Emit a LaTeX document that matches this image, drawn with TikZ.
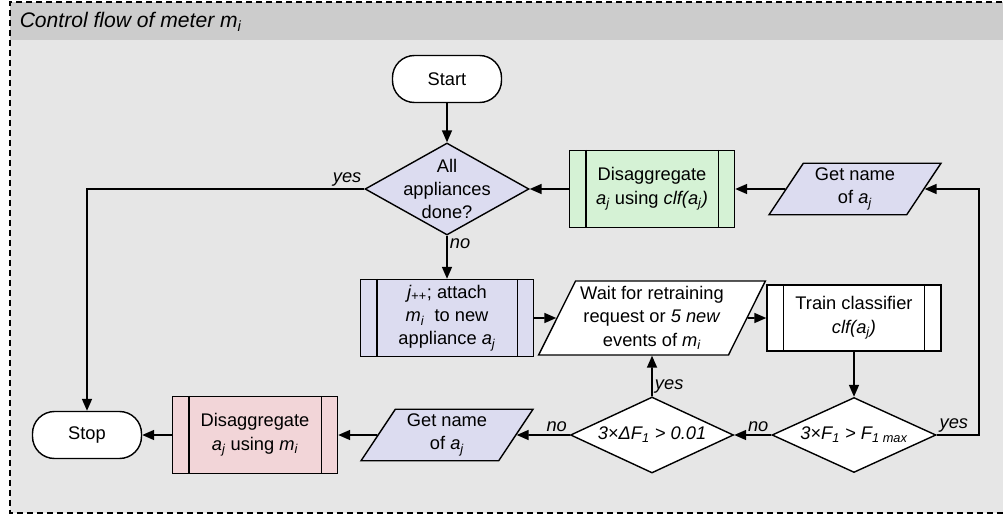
\documentclass[tikz,border=0pt]{standalone}
\usepackage{fontspec}
\setmainfont{Liberation Sans}
\usepackage{tikz}
\usetikzlibrary{arrows.meta,shapes.geometric,positioning}

\definecolor{lavender}{HTML}{DCDCF0}
\definecolor{mint}{HTML}{D5F2D5}
\definecolor{rose}{HTML}{F2D5D8}
\definecolor{panel}{HTML}{E6E6E6}
\definecolor{panelhead}{HTML}{CCCCCC}

% italic symbol with a subscript, e.g. \ix{a}{j}
\newcommand{\ix}[2]{\textit{#1\textsubscript{#2}}}

\tikzstyle{every node}=[font=\fontsize{13}{16.5}\selectfont]
\tikzstyle{terminal}=[draw,line width=1pt,fill=white,rounded corners=0.55cm,minimum width=2.725cm,minimum height=1.175cm]
\tikzstyle{decision}=[draw,line width=1pt,diamond,inner sep=0pt,minimum width=4.1cm,minimum height=1.875cm]
\tikzstyle{io}=[draw,line width=1pt,trapezium,trapezium left angle=60,trapezium right angle=120,trapezium stretches=true,align=center,minimum width=4.3cm,minimum height=1.275cm]
\tikzstyle{subproc}=[draw,line width=1pt,align=center,minimum width=4.125cm,minimum height=1.925cm,
  append after command={\pgfextra{\let\mainnode=\tikzlastnode}
    ([xshift=0.425cm]\mainnode.north west) edge[line width=1pt] ([xshift=0.425cm]\mainnode.south west)
    ([xshift=-0.425cm]\mainnode.north east) edge[line width=1pt] ([xshift=-0.425cm]\mainnode.south east)}]
\tikzstyle{flow}=[line width=1.2pt,-{Triangle[length=0.3cm,width=0.25cm]}]
\tikzstyle{answer}=[font=\fontsize{13}{16.5}\selectfont\itshape,inner sep=1.5pt]

\begin{document}
\begin{tikzpicture}
  \useasboundingbox (0,0) rectangle (25.075,-12.875);

  % panel with its header
  \fill[panel] (0.25,-0.05) rectangle (25.3,-12.825);
  \fill[panelhead] (0.25,-0.05) rectangle (25.3,-1.0);
  \draw[line width=1pt,dash pattern=on 0.15cm off 0.1cm] (25.3,-0.05) -- (0.25,-0.05) -- (0.25,-12.825) -- (25.3,-12.825);
  \node[anchor=west,font=\fontsize{15}{18}\selectfont\itshape] (title) at (0.37,-0.55) {Control flow of meter \ix{m}{i}};

  \node[terminal]                (start) at (11.175,-1.975) {Start};
  \node[decision,fill=lavender,minimum height=2.3cm,label={[align=center]center:All\\appliances\\done?}]
                                 (done) [below of=start,node distance=2.75cm] {};
  \node[subproc,fill=mint]       (green) [right of=done,node distance=5.125cm] {Disaggregate\\\ix{a}{j} using \textit{clf(a\textsubscript{j})}};
  \node[io,fill=lavender]        (getA) [right of=green,node distance=5.075cm] {Get name\\of \ix{a}{j}};
  \node[subproc,fill=lavender,minimum width=4.325cm]
                                 (jpp) [below of=done,node distance=3.225cm] {\ix{j}{++}; attach\\\ix{m}{i}~ to new\\appliance \ix{a}{j}};
  \node[io,fill=white,trapezium left angle=63,trapezium right angle=117,minimum width=4.925cm,minimum height=1.85cm]
                                 (wait) [right of=jpp,node distance=5.125cm] {Wait for retraining\\request or \textit{5 new}\\events of \ix{m}{i}};
  \node[subproc,fill=white,minimum width=4.35cm,minimum height=1.65cm]
                                 (train) [right of=wait,node distance=5.05cm] {Train classifier\\\textit{clf(a\textsubscript{j})}};
  \node[decision,fill=white,label={center:\textit{3×F\textsubscript{1} > F\textsubscript{1 max}}}]
                                 (fmax) [below of=train,node distance=2.925cm] {};
  \node[decision,fill=white,minimum width=4.075cm,minimum height=1.9cm,label={center:\textit{3×ΔF\textsubscript{1} > 0.01}}]
                                 (dF) [left of=fmax,node distance=5.05cm] {};
  \node[io,fill=lavender]        (getB) [left of=dF,node distance=5.125cm] {Get name\\of \ix{a}{j}};
  \node[subproc,fill=rose]       (red) [left of=getB,node distance=4.8cm] {Disaggregate\\\ix{a}{j} using \ix{m}{i}};
  \node[terminal]                (stop) [left of=red,node distance=4.2cm] {Stop};

  \path[flow] (start) edge (done)
        (green) edge (done)
        (getA) edge (green)
        (done) edge node[answer,anchor=north west,pos=0] {no} (jpp)
        (jpp) edge (wait)
        (wait) edge (train)
        (train) edge (fmax)
        (fmax) edge node[answer,anchor=south east,pos=0] {no} (dF)
        (dF) edge node[answer,anchor=south west,pos=0] {yes} (wait)
        (dF) edge node[answer,anchor=south east,pos=0] {no} (getB)
        (getB) edge (red)
        (red) edge (stop);
  \draw[flow] (done.west) node[answer,anchor=south east] {yes} -| (stop.north);
  \draw[flow] (fmax.east) node[answer,anchor=south west] {yes} -- ++(1.05,0) |- (getA.east);
\end{tikzpicture}
\end{document}
